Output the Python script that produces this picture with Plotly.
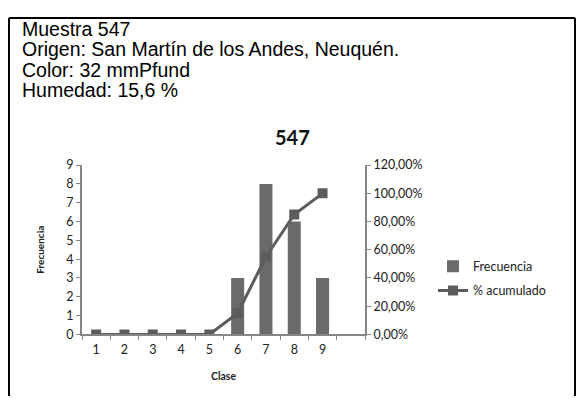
import plotly.graph_objects as go

# datos de la muestra
clases = ["1", "2", "3", "4", "5", "6", "7", "8", "9"]
frecuencia = [0, 0, 0, 0, 0, 3, 8, 6, 3]
pct_acumulado = [0, 0, 0, 0, 0, 0.15, 0.55, 0.85, 1.00]
pct_ticks = [0, 0.2, 0.4, 0.6, 0.8, 1.0, 1.2]
pct_labels = ["0,00%", "20,00%", "40,00%", "60,00%", "80,00%", "100,00%", "120,00%"]
encabezado = [
    "Muestra 547",
    "Origen: San Martín de los Andes, Neuquén.",
    "Color: 32 mmPfund",
    "Humedad: 15,6 %",
]

# la página deja 8px de margen en el body, así que la figura es más chica
OFF = 8
W, H = 584 - OFF, 403 - OFF


def fx(px):
    return (px - OFF) / W


def fy(py):
    return 1 - (py - OFF) / H


font_chart = "Lato, 'Open Sans', sans-serif"
gris_eje = "#868686"

fig = go.Figure()
fig.add_trace(go.Bar(x=clases, y=frecuencia, name="Frecuencia", legendgroup="a",
                     marker=dict(color="#6a6a6a", line=dict(width=0)),
                     width=0.46))
fig.add_trace(go.Scatter(x=clases, y=pct_acumulado, name="% acumulado", yaxis="y2",
                         legendgroup="b", mode="lines+markers",
                         line=dict(color="#5c5c5c", width=3),
                         marker=dict(symbol="square", size=10, color="#5c5c5c")))

fig.update_layout(
    width=W, height=H,
    margin=dict(l=0, r=0, t=0, b=0),
    paper_bgcolor="white",
    plot_bgcolor="white",
    showlegend=True,
    font=dict(family=font_chart, size=12, color="#222"),
    legend=dict(x=fx(433), y=fy(253), xanchor="left", yanchor="top",
                font=dict(size=12.5, color="#222"), bgcolor="rgba(0,0,0,0)",
                itemwidth=30, traceorder="grouped", tracegroupgap=5),
    xaxis=dict(
        domain=[fx(82), fx(365)],
        type="category",
        categoryarray=clases + [" "],
        range=[-0.5, 9.5],
        tickson="boundaries",
        ticks="outside", ticklen=4, tickcolor=gris_eje,
        showline=True, linecolor=gris_eje, linewidth=2,
        showgrid=False, zeroline=False,
        ticklabelstandoff=3,
        title=dict(text="<b>Clase</b>", font=dict(size=10.5), standoff=16),
        tickfont=dict(size=12.5),
        anchor="y",
    ),
    yaxis=dict(
        domain=[fy(339), fy(163)],
        range=[0, 9], dtick=1,
        ticks="outside", ticklen=4, tickcolor=gris_eje,
        showline=True, linecolor=gris_eje, linewidth=2,
        showgrid=False, zeroline=False,
        title=dict(text="<b>Frecuencia</b>", font=dict(size=10), standoff=20),
        tickfont=dict(size=12.5),
    ),
    yaxis2=dict(
        overlaying="y", side="right", anchor="x",
        range=[0, 1.2],
        tickvals=pct_ticks, ticktext=pct_labels,
        ticks="outside", ticklen=4, tickcolor=gris_eje,
        showline=True, linecolor=gris_eje, linewidth=2,
        showgrid=False, zeroline=False,
        tickfont=dict(size=12.5),
    ),
)

# título del gráfico
fig.add_annotation(text="<b>547</b>", x=fx(292), y=fy(134), xref="paper", yref="paper",
                   showarrow=False, font=dict(family=font_chart, size=20, color="#111"),
                   xanchor="center", yanchor="middle")

# encabezado de texto
for i, linea in enumerate(encabezado):
    fig.add_annotation(text=linea, x=fx(20), y=fy(21.5 + 21.3 * i),
                       xref="paper", yref="paper", showarrow=False,
                       xanchor="left", yanchor="middle",
                       font=dict(family="'Liberation Sans', Arial, sans-serif", size=19.5, color="black"))

# marco del recuadro (abierto por abajo)
marco = dict(type="line", xref="paper", yref="paper", line=dict(color="black", width=2))
fig.add_shape(x0=fx(9), x1=fx(9), y0=0, y1=fy(10), **marco)
fig.add_shape(x0=fx(575), x1=fx(575), y0=0, y1=fy(10), **marco)
fig.add_shape(x0=fx(9), x1=fx(575), y0=fy(10), y1=fy(10), **marco)

fig.write_html("out.html")
